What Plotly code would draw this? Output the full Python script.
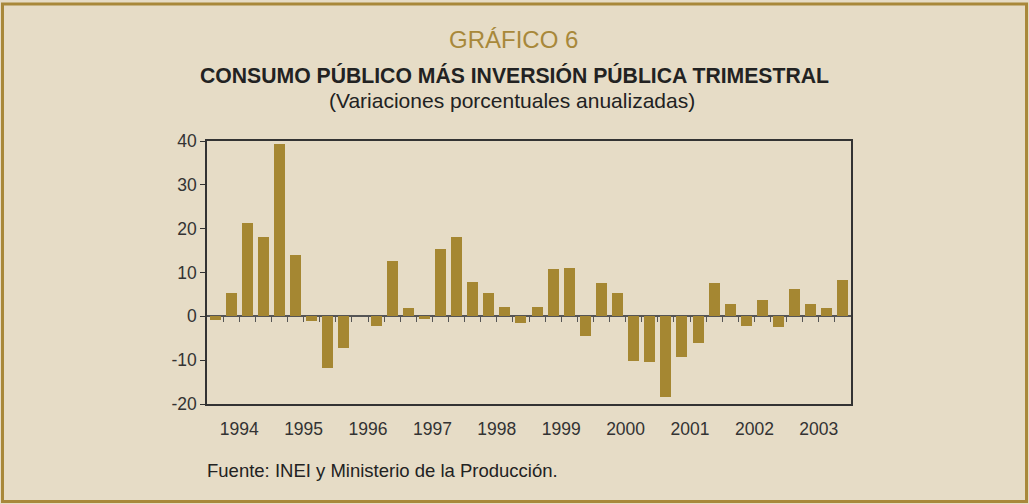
import plotly.graph_objects as go

years = ["1994", "1995", "1996", "1997", "1998", "1999", "2000", "2001", "2002", "2003"]
quarters = ["T1", "T2", "T3", "T4"]
values = [
    -0.9, 5.4, 21.4, 18.2,
    39.3, 14.1, -1.1, -11.7,
    -7.3, 0.0, -2.1, 12.7,
    2.0, -0.7, 15.3, 18.0,
    7.9, 5.4, 2.2, -1.6,
    2.2, 10.7, 11.1, -4.4,
    7.5, 5.4, -10.3, -10.5,
    -18.3, -9.2, -6.0, 7.5,
    2.9, -2.1, 3.8, -2.5,
    6.3, 2.9, 1.8, 8.4,
]
y_ticks = [-20, -10, 0, 10, 20, 30, 40]
y_tick_text = ["-20", "-10", "0", "10", "20", "30", "40"]

W, H = 1029, 504
L, R, T, B = 207, 851, 141, 404
pw, ph = R - L, B - T

def px(x):
    return (x - L) / pw

def py(y):
    return (B - y) / ph

n = len(values)
xs = list(range(n))
labels = [f"{years[i // 4]} {quarters[i % 4]}" for i in range(n)]

bg = "#e6dcc6"
gold = "#a58732"
font = "Liberation Sans, Arial, sans-serif"

fig = go.Figure()
fig.add_trace(go.Bar(
    x=xs, y=values, width=0.68,
    marker=dict(color=gold, line=dict(width=0)),
    hovertext=labels, hoverinfo="text+y",
))

year_centers = [4 * i + 1.5 for i in range(len(years))]
boundaries = [i + 0.5 for i in range(n - 1)]

fig.update_layout(
    width=W, height=H,
    margin=dict(l=L, r=W - R, t=T, b=H - B),
    paper_bgcolor=bg, plot_bgcolor=bg,
    showlegend=False,
    font=dict(family=font, color="#333333", size=16),
    bargap=0,
    xaxis=dict(
        range=[-0.5, n - 0.5],
        tickvals=year_centers, ticktext=years,
        ticks="", showgrid=False, zeroline=False,
        showline=True, linecolor="#333333", linewidth=1.5, mirror=True,
        tickfont=dict(family=font, size=17.5, color="#333333"),
        ticklabelstandoff=8,
    ),
    xaxis2=dict(
        overlaying="x", anchor="free", position=20 / 60,
        range=[-0.5, n - 0.5],
        tickvals=boundaries, ticks="outside", ticklen=5, tickwidth=1.2,
        tickcolor="#555555", showticklabels=False,
        showgrid=False, zeroline=False, showline=False, side="bottom",
    ),
    yaxis=dict(
        range=[-20, 40], tickvals=y_ticks, ticktext=y_tick_text,
        ticks="outside", ticklen=5, tickwidth=1.2, tickcolor="#333333",
        showgrid=False,
        zeroline=True, zerolinecolor="#555555", zerolinewidth=2,
        showline=True, linecolor="#333333", linewidth=1.5, mirror=True,
        tickfont=dict(family=font, size=17.5, color="#333333"),
    ),
    shapes=[
        dict(type="rect", xref="paper", yref="paper",
             x0=px(2.5), x1=px(1026.5), y0=py(501.5), y1=py(4),
             line=dict(color="#a8883a", width=3), layer="below"),
    ],
    annotations=[
        dict(text="GRÁFICO 6", xref="paper", yref="paper",
             x=px(513), y=py(40), xanchor="center", yanchor="middle",
             showarrow=False, font=dict(family=font, size=24, color="#a8883a")),
        dict(text="<b>CONSUMO PÚBLICO MÁS INVERSIÓN PÚBLICA TRIMESTRAL</b>",
             xref="paper", yref="paper",
             x=px(514), y=py(75), xanchor="center", yanchor="middle",
             showarrow=False, font=dict(family=font, size=21.2, color="#222222")),
        dict(text="(Variaciones porcentuales anualizadas)",
             xref="paper", yref="paper",
             x=px(512), y=py(100), xanchor="center", yanchor="middle",
             showarrow=False, font=dict(family=font, size=21, color="#222222")),
        dict(text="Fuente: INEI y Ministerio de la Producción.",
             xref="paper", yref="paper",
             x=px(205), y=py(470), xanchor="left", yanchor="middle",
             showarrow=False, font=dict(family=font, size=18.5, color="#222222")),
    ],
)
fig.add_trace(go.Scatter(x=[None], y=[None], xaxis="x2", showlegend=False, hoverinfo="skip"))

fig.write_html("out.html", post_script="document.body.style.margin='0';",
               config={"displayModeBar": False})
